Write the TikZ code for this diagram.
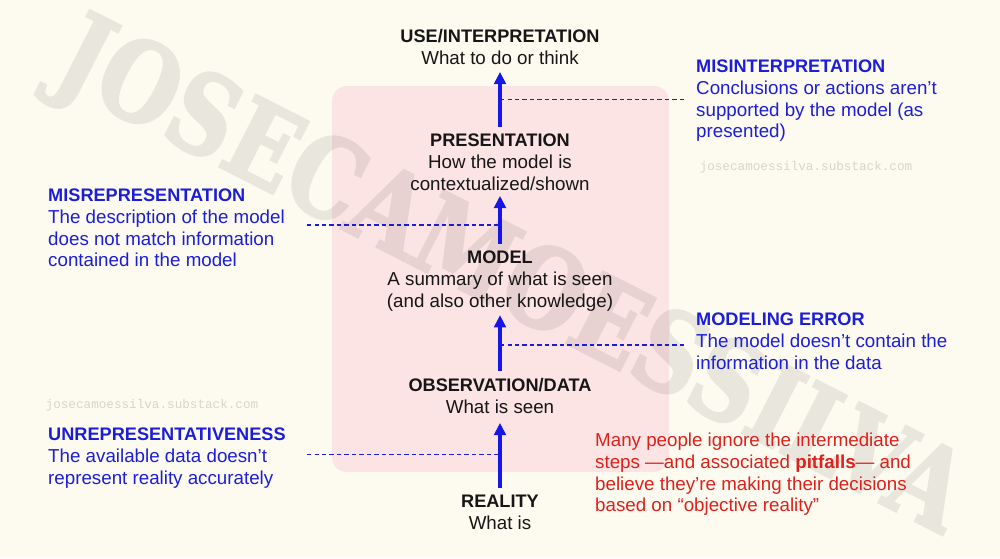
\documentclass[tikz,border=0pt]{standalone}
\usepackage{fontspec}
\setmainfont{Liberation Sans}
\newfontfamily\markfont{DejaVu Serif Bold}[FakeBold=2.5]
\newfontfamily\urlfont{Liberation Mono}
\usetikzlibrary{arrows.meta}
\definecolor{paper}{RGB}{253,251,240}
\definecolor{blush}{RGB}{251,228,227}
\definecolor{pitblue}{RGB}{28,30,215}
\definecolor{arrowblue}{RGB}{22,22,232}
\definecolor{notered}{RGB}{222,32,28}
\definecolor{inkblack}{RGB}{22,22,22}
\definecolor{urlgray}{RGB}{216,214,204}
\tikzset{
  stage/.style={anchor=north, align=center, inner sep=0pt, text=inkblack,
    font=\fontsize{16}{18.8}\selectfont},
  pitfall/.style={anchor=north west, align=left, inner sep=0pt, text=pitblue,
    font=\fontsize{16}{18.5}\selectfont},
  urlmark/.style={inner sep=0pt, text=urlgray, font=\urlfont\fontsize{10.8}{12}\selectfont},
  flow/.style={draw=arrowblue, line width=2.6pt, shorten <=6.4pt,
    -{Triangle[length=10.5pt,width=10pt]}},
  gap/.style={draw=pitblue, line width=1.5pt, dash pattern=on 3.8pt off 2.6pt},
}
\newcommand{\hd}[1]{{\fontsize{15.5}{18.8}\selectfont\bfseries #1}}

\begin{document}
\begin{tikzpicture}[x=0.3mm, y=-0.3mm]
% background and box
\fill[paper] (0,0) rectangle (1000,558);
\useasboundingbox (0,0) rectangle (1000,558);
\fill[blush, rounded corners=12.8pt] (332,86) rectangle (669,472);

% watermark
\begin{scope}[transparency group, opacity=0.08]
\node[rotate=-27, xscale=0.82, inner sep=0pt, text=black,
  font=\markfont\fontsize{94}{94}\selectfont] (mark) at (509,281) {JOSECAMOESSILVA};
\end{scope}
\node[urlmark] (url1) at (806,167) {josecamoessilva.substack.com};
\node[urlmark] (url2) at (152,405) {josecamoessilva.substack.com};

% stages
\node[stage] (use) at (500,29) {\hd{USE/INTERPRETATION}\\What to do or think};
\node[stage] (pres) at (500,134) {\hd{PRESENTATION}\\How the model is\\contextualized/shown};
\node[stage] (model) at (500,251) {\hd{MODEL}\\A summary of what is seen\\(and also other knowledge)};
\node[stage] (obs) at (500,378) {\hd{OBSERVATION/DATA}\\What is seen};
\node[stage] (real) at (500,495) {\hd{REALITY}\\What is};

% pitfalls
\node[pitfall] (misint) at (696,60) {\hd{MISINTERPRETATION}\\Conclusions or actions aren’t\\supported by the model (as\\presented)};
\node[pitfall] (misrep) at (48,189) {\hd{MISREPRESENTATION}\\The description of the model\\does not match information\\contained in the model};
\node[pitfall] (moderr) at (696,313) {\hd{MODELING ERROR}\\The model doesn’t contain the\\information in the data};
\node[pitfall] (unrep) at (48,428) {\hd{UNREPRESENTATIVENESS}\\The available data doesn’t\\represent reality accurately};
\node[pitfall, text=notered] (note) at (595,433) {Many people ignore the intermediate\\steps —and associated \textbf{pitfalls}— and\\believe they’re making their decisions\\based on “objective reality”};

% arrows
\draw[flow, shorten >=6pt] (pres.north) -- coordinate[pos=0.5] (m1) (use.south);
\draw[flow, shorten >=3.8pt] (model.north) -- coordinate[pos=0.44] (m2) (pres.south);
\draw[flow, shorten >=2.6pt] (obs.north) -- coordinate[pos=0.5] (m3) (model.south);
\draw[flow, shorten >=7.7pt] (real.north) -- coordinate[pos=0.5] (m4) (obs.south);

% dashed links
\coordinate (leftend) at (307,0);
\draw[gap, shorten >=10.2pt] (m1) -- (m1 -| misint.west);
\draw[gap] (m2 -| leftend) -- (m2);
\draw[gap, shorten >=10.2pt] (m3) -- (m3 -| moderr.west);
\draw[gap] (m4 -| leftend) -- (m4);
\end{tikzpicture}
\end{document}
